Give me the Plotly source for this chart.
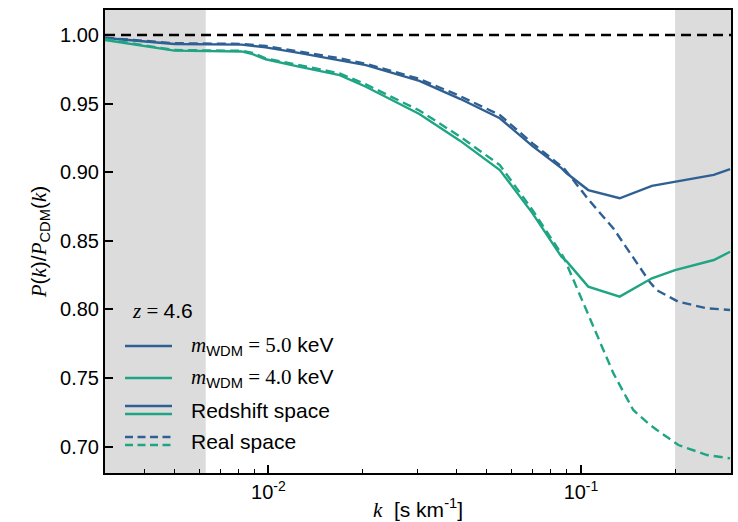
import plotly.graph_objects as go

# Wavenumber grids [s/km]
k_redshift = [0.003, 0.005, 0.0082, 0.0089, 0.0098, 0.0125, 0.0169, 0.0205, 0.0304,
              0.041, 0.055, 0.070, 0.0866, 0.090, 0.1055, 0.133, 0.1686, 0.200, 0.266, 0.300]
k_real = [0.003, 0.005, 0.0082, 0.0089, 0.0098, 0.0125, 0.0169, 0.0205, 0.0304,
          0.041, 0.055, 0.070, 0.088, 0.090, 0.106, 0.127, 0.147, 0.166, 0.175,
          0.205, 0.253, 0.300]

# Flux power ratio P(k)/P_CDM(k), redshift space (solid)
wdm5_redshift = [0.9978, 0.9934, 0.9930, 0.9920, 0.9910, 0.9870, 0.9818, 0.9780, 0.9665,
                 0.9535, 0.9393, 0.9190, 0.9030, 0.8992, 0.8870, 0.8810, 0.8900, 0.8931,
                 0.8980, 0.9023]
wdm4_redshift = [0.9964, 0.9886, 0.9880, 0.9860, 0.9823, 0.9769, 0.9708, 0.9623, 0.9424,
                 0.9230, 0.9016, 0.8700, 0.8384, 0.8350, 0.8166, 0.8093, 0.8227, 0.8287,
                 0.8360, 0.8420]

# Real space (dashed)
wdm5_real = [0.9980, 0.9940, 0.9935, 0.9930, 0.9920, 0.9880, 0.9830, 0.9790, 0.9680,
             0.9555, 0.9417, 0.9210, 0.9030, 0.9004, 0.8797, 0.8590, 0.8380, 0.8200,
             0.8140, 0.8056, 0.8008, 0.7996]
wdm4_real = [0.9970, 0.9890, 0.9885, 0.9870, 0.9830, 0.9780, 0.9720, 0.9640, 0.9450,
             0.9260, 0.9052, 0.8724, 0.8380, 0.8330, 0.7947, 0.7534, 0.7267, 0.7160,
             0.7121, 0.7012, 0.6939, 0.6915]

# Reference line and masked k ranges
k_ref = [0.003, 0.302]
ratio_ref = [1.0, 1.0]
mask_low = (0.003, 0.0063)
mask_high = (0.2, 0.302)

x_tickvals = [0.01, 0.1]
x_ticktext = ["10<sup>-2</sup>", "10<sup>-1</sup>"]
x_minor = [0.004, 0.005, 0.006, 0.007, 0.008, 0.009,
           0.02, 0.03, 0.04, 0.05, 0.06, 0.07, 0.08, 0.09, 0.2]
y_tickvals = [0.70, 0.75, 0.80, 0.85, 0.90, 0.95, 1.00]

BLUE = "#2f6093"
GREEN = "#1fa584"
SANS = "Liberation Sans, Arial, sans-serif"
SERIF = "Liberation Serif, Times New Roman, serif"
LW = 2.4
DASH = "9px,5px"

W, H = 738, 522
ML, MR, MT, MB = 105, 7, 10, 49


def px(x):
    return (x - ML) / (W - ML - MR)


def py(y):
    return (H - MB - y) / (H - MT - MB)


fig = go.Figure()

fig.add_trace(go.Scatter(x=k_ref, y=ratio_ref, mode="lines",
                         line=dict(color="black", width=2.4, dash="10px,6px")))
fig.add_trace(go.Scatter(x=k_redshift, y=wdm5_redshift, mode="lines",
                         line=dict(color=BLUE, width=LW)))
fig.add_trace(go.Scatter(x=k_real, y=wdm5_real, mode="lines",
                         line=dict(color=BLUE, width=LW, dash=DASH)))
fig.add_trace(go.Scatter(x=k_redshift, y=wdm4_redshift, mode="lines",
                         line=dict(color=GREEN, width=LW)))
fig.add_trace(go.Scatter(x=k_real, y=wdm4_real, mode="lines",
                         line=dict(color=GREEN, width=LW, dash=DASH)))

for lo, hi in (mask_low, mask_high):
    fig.add_vrect(x0=lo, x1=hi, fillcolor="#dcdcdc", opacity=1, line_width=0, layer="below")

# Legend block: sample lines as shapes, labels as annotations
SAMPLE_X0, SAMPLE_X1, TEXT_X = 125, 172, 189
legend_lines = [
    (346, BLUE, "solid"),
    (378, GREEN, "solid"),
    (406, BLUE, "solid"),
    (414, GREEN, "solid"),
    (437, BLUE, "8px,4.5px"),
    (445, GREEN, "8px,4.5px"),
]
for y, color, dash in legend_lines:
    fig.add_shape(type="line", xref="paper", yref="paper",
                  x0=px(SAMPLE_X0), x1=px(SAMPLE_X1), y0=py(y), y1=py(y),
                  line=dict(color=color, width=LW, dash=dash))

serif_i = lambda s: f'<span style="font-family:{SERIF}"><i>{s}</i></span>'
serif = lambda s: f'<span style="font-family:{SERIF}">{s}</span>'

legend_text = [
    (130, 311, f"{serif_i('z')}{serif(' = ')}4.6"),
    (TEXT_X, 346, f"{serif_i('m')}<sub>WDM</sub>{serif(' = 5.0')} keV"),
    (TEXT_X, 378, f"{serif_i('m')}<sub>WDM</sub>{serif(' = 4.0')} keV"),
    (TEXT_X, 410, "Redshift space"),
    (TEXT_X, 441, "Real space"),
]
for x, y, text in legend_text:
    fig.add_annotation(x=px(x), y=py(y), xref="paper", yref="paper", text=text,
                       showarrow=False, xanchor="left", yanchor="middle",
                       font=dict(family=SANS, size=21, color="black"))

fig.update_layout(
    width=W, height=H,
    margin=dict(l=ML, r=MR, t=MT, b=MB),
    paper_bgcolor="white", plot_bgcolor="white",
    showlegend=False,
    font=dict(family=SANS, size=20, color="black"),
)

fig.update_xaxes(
    type="log", range=[-2.5229, -0.52], automargin=False,
    tickvals=x_tickvals, ticktext=x_ticktext,
    ticks="inside", ticklen=8, tickwidth=1.6, tickcolor="black",
    minor=dict(tickvals=x_minor, ticks="inside", ticklen=4.5, tickwidth=1.2, tickcolor="black"),
    showgrid=False, zeroline=False,
    showline=True, linecolor="black", linewidth=2, mirror=True,
    tickfont=dict(size=20),
    title=dict(text=f"{serif_i('k')}  [s km<sup>-1</sup>]", font=dict(size=21), standoff=2),
)
fig.update_yaxes(
    range=[0.6808, 1.0182], automargin=False,
    tickvals=y_tickvals, tickformat=".2f",
    ticks="inside", ticklen=8, tickwidth=1.6, tickcolor="black",
    showgrid=False, zeroline=False,
    showline=True, linecolor="black", linewidth=2, mirror=True,
    tickfont=dict(size=20),
    title=dict(text=f"{serif_i('P')}({serif_i('k')})/{serif_i('P')}<sub>CDM</sub>({serif_i('k')})",
               font=dict(size=21), standoff=8),
)

fig.write_html("out.html")
